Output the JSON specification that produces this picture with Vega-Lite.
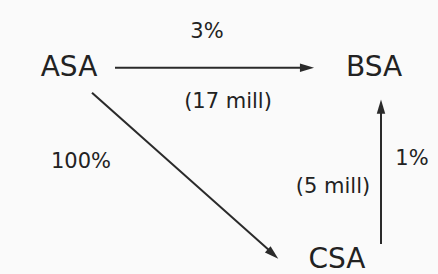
{
  "$schema": "https://vega.github.io/schema/vega-lite/v6.json",
  "width": 438,
  "height": 274,
  "autosize": {"type": "fit", "contains": "padding"},
  "padding": 0,
  "background": "#fafafa",
  "config": {"view": {"stroke": null}},
  "datasets": {
    "labels": [
      {"x": 69, "y": 68, "label": "ASA", "size": 28},
      {"x": 374, "y": 68, "label": "BSA", "size": 28},
      {"x": 337, "y": 261, "label": "CSA", "size": 28},
      {"x": 207, "y": 32, "label": "3%", "size": 21},
      {"x": 228, "y": 102, "label": "(17 mill)", "size": 21},
      {"x": 81, "y": 163, "label": "100%", "size": 21},
      {"x": 333, "y": 188, "label": "(5 mill)", "size": 21},
      {"x": 412, "y": 160, "label": "1%", "size": 21}
    ],
    "edges": [
      {"x": 115, "y": 68, "x2": 304, "y2": 68},
      {"x": 92, "y": 93, "x2": 270, "y2": 252},
      {"x": 381, "y": 245, "x2": 381, "y2": 110}
    ],
    "heads": [
      {"x": 307, "y": 68, "angle": 0},
      {"x": 273, "y": 255, "angle": 42},
      {"x": 381, "y": 107, "angle": -90}
    ]
  },
  "layer": [
    {
      "data": {"name": "edges"},
      "mark": {"type": "rule", "color": "#2a2a2a", "strokeWidth": 2},
      "encoding": {
        "x": {"field": "x", "type": "quantitative", "scale": {"domain": [0, 438]}, "axis": null},
        "y": {"field": "y", "type": "quantitative", "scale": {"domain": [0, 274], "reverse": true}, "axis": null},
        "x2": {"field": "x2"},
        "y2": {"field": "y2"}
      }
    },
    {
      "data": {"name": "heads"},
      "mark": {"type": "point", "shape": "M-1,-0.6L1,0L-1,0.6Z", "filled": true, "color": "#2a2a2a", "size": 200, "opacity": 1},
      "encoding": {
        "x": {"field": "x", "type": "quantitative", "scale": {"domain": [0, 438]}, "axis": null},
        "y": {"field": "y", "type": "quantitative", "scale": {"domain": [0, 274], "reverse": true}, "axis": null},
        "angle": {"field": "angle", "type": "quantitative", "scale": null}
      }
    },
    {
      "data": {"name": "labels"},
      "mark": {"type": "text", "font": "DejaVu Sans", "color": "#222222", "align": "center", "baseline": "middle"},
      "encoding": {
        "x": {"field": "x", "type": "quantitative", "scale": {"domain": [0, 438]}, "axis": null},
        "y": {"field": "y", "type": "quantitative", "scale": {"domain": [0, 274], "reverse": true}, "axis": null},
        "text": {"field": "label"},
        "size": {"field": "size", "type": "quantitative", "scale": null}
      }
    }
  ]
}
